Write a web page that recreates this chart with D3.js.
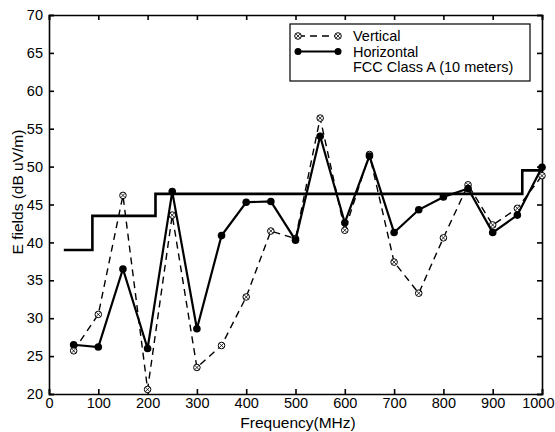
<!DOCTYPE html>
<html><head><meta charset="utf-8">
<script src="https://cdn.jsdelivr.net/npm/d3@7"></script>
<style>body{margin:0;background:#fff}svg{display:block}text{font-family:"Liberation Sans",Arial,sans-serif;fill:#000}</style>
</head><body><div id="c"></div>
<script>
const freqs = [50,100,150,200,250,300,350,400,450,500,550,600,650,700,750,800,850,900,950,1000];
const vertical = [25.7,30.5,46.2,20.6,43.6,23.5,26.4,32.8,41.5,40.5,56.4,41.6,51.6,37.4,33.3,40.6,47.6,42.3,44.5,48.8];
const horizontal = [26.5,26.2,36.5,26.0,46.7,28.6,40.9,45.3,45.4,40.3,54.0,42.6,51.4,41.3,44.3,46.0,47.1,41.3,43.6,49.9];
const fccFreq = [30,88,88,216,216,960,960,1000];
const fccLimit = [39,39,43.5,43.5,46.4,46.4,49.5,49.5];
const xTicks = [0,100,200,300,400,500,600,700,800,900,1000];
const yTicks = [20,25,30,35,40,45,50,55,60,65,70];
const legendLabels = ["Vertical","Horizontal","FCC Class A (10 meters)"];

const W=555,H=432,m={l:49,r:13,t:15,b:38};
const svg=d3.select("#c").append("svg").attr("width",W).attr("height",H);
const x=d3.scaleLinear().domain([0,1000]).range([m.l,W-m.r]);
const y=d3.scaleLinear().domain([20,70]).range([H-m.b,m.t]);

// axes
const tl=5;
const gB=svg.append("g").attr("transform",`translate(0,${H-m.b})`).call(d3.axisBottom(x).tickValues(xTicks).tickFormat(d3.format("d")).tickSize(-tl).tickPadding(4));
const gT=svg.append("g").attr("transform",`translate(0,${m.t})`).call(d3.axisTop(x).tickValues(xTicks).tickSize(-tl).tickFormat(""));
const gL=svg.append("g").attr("transform",`translate(${m.l},0)`).call(d3.axisLeft(y).tickValues(yTicks).tickSize(-tl).tickPadding(6));
const gR=svg.append("g").attr("transform",`translate(${W-m.r},0)`).call(d3.axisRight(y).tickValues(yTicks).tickSize(-tl).tickFormat(""));
[gB,gT,gL,gR].forEach(g=>{g.select(".domain").attr("stroke","#000").attr("stroke-width",1.6);g.selectAll(".tick line").attr("stroke","#000").attr("stroke-width",1.6);g.selectAll("text").style("font-size","14.5px").attr("fill","#000");});
gB.selectAll(".tick text").filter(d=>d===1000).attr("text-anchor","end").attr("x",W-1-x(1000));

// FCC limit
const fcc=fccFreq.map((f,i)=>[f,fccLimit[i]]);
svg.append("path").datum(fcc).attr("fill","none").attr("stroke","#000").attr("stroke-width",2.6)
  .attr("d",d3.line().x(d=>x(d[0])).y(d=>y(d[1])));

// Vertical dashed
const vd=freqs.map((f,i)=>[f,vertical[i]]);
svg.append("path").datum(vd).attr("fill","none").attr("stroke","#000").attr("stroke-width",1.4).attr("stroke-dasharray","7,5")
  .attr("d",d3.line().x(d=>x(d[0])).y(d=>y(d[1])));
function vMark(g,cx,cy){
  g.append("circle").attr("cx",cx).attr("cy",cy).attr("r",3.3).attr("fill","#fff").attr("stroke","#000").attr("stroke-width",1);
  g.append("path").attr("d",`M${cx-2.2},${cy-2.2}L${cx+2.2},${cy+2.2}M${cx-2.2},${cy+2.2}L${cx+2.2},${cy-2.2}`).attr("stroke","#000").attr("stroke-width",0.8);
}
const gv=svg.append("g");
vd.forEach(d=>vMark(gv,x(d[0]),y(d[1])));

// Horizontal solid
const hd=freqs.map((f,i)=>[f,horizontal[i]]);
svg.append("path").datum(hd).attr("fill","none").attr("stroke","#000").attr("stroke-width",2.2)
  .attr("d",d3.line().x(d=>x(d[0])).y(d=>y(d[1])));
svg.append("g").selectAll("circle").data(hd).join("circle").attr("cx",d=>x(d[0])).attr("cy",d=>y(d[1])).attr("r",3.8).attr("fill","#000");

// legend
const lg=svg.append("g");
lg.append("rect").attr("x",290).attr("y",24).attr("width",240).attr("height",57).attr("fill","#fff").attr("stroke","#000").attr("stroke-width",1.2);
const rows=[36,51.5,67];
lg.append("line").attr("x1",298).attr("x2",338).attr("y1",rows[0]).attr("y2",rows[0]).attr("stroke","#000").attr("stroke-width",1.4).attr("stroke-dasharray","7,5");
vMark(lg,298,rows[0]);vMark(lg,338,rows[0]);
lg.append("line").attr("x1",298).attr("x2",338).attr("y1",rows[1]).attr("y2",rows[1]).attr("stroke","#000").attr("stroke-width",2);
lg.append("circle").attr("cx",298).attr("cy",rows[1]).attr("r",3.5);
lg.append("circle").attr("cx",338).attr("cy",rows[1]).attr("r",3.5);
legendLabels.forEach((t,i)=>lg.append("text").attr("x",353).attr("y",rows[i]+5).style("font-size","14.5px").text(t));

// axis titles
svg.append("text").attr("x",298).attr("y",428).attr("text-anchor","middle").style("font-size","15.5px").text("Frequency(MHz)");
svg.append("text").attr("transform",`translate(23,192) rotate(-90)`).attr("text-anchor","middle").style("font-size","15.5px").text("E fields (dB uV/m)");
</script></body></html>
